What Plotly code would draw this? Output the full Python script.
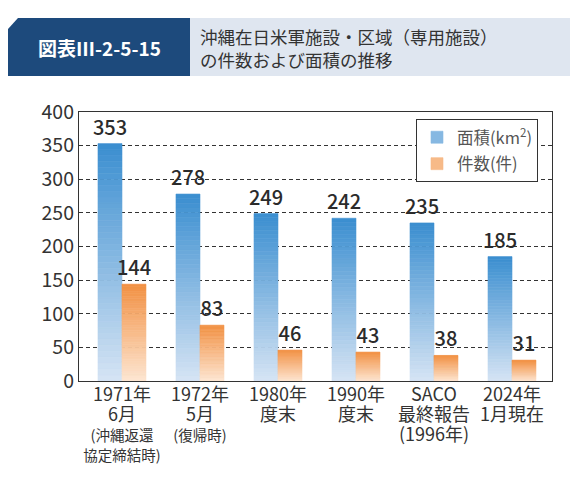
"""
沖縄在日米軍施設・区域（専用施設）の件数および面積の推移 - grouped bars with gradient fill
"""
import plotly.graph_objects as go

# data
categories = ["1971年6月", "1972年5月", "1980年度末", "1990年度末", "SACO最終報告", "2024年1月現在"]
area_km2 = [353, 278, 249, 242, 235, 185]
count = [144, 83, 46, 43, 38, 31]
label_lines = [
    (["1971年", "6月"], ["(沖縄返還", "協定締結時)"]),
    (["1972年", "5月"], ["(復帰時)"]),
    (["1980年", "度末"], []),
    (["1990年", "度末"], []),
    (["SACO", "最終報告", "(1996年)"], []),
    (["2024年", "1月現在"], []),
]

FONT = "Noto Sans CJK JP"
OFF = 8  # page body margin
W, H = 578 - OFF, 484 - OFF
N_SEG = 40  # slices per bar to fake the vertical gradient


def mix(c1, c2, t):
    r = [round(a + (b - a) * t) for a, b in zip(c1, c2)]
    return "rgb(%d,%d,%d)" % tuple(r)


def px(x):
    return (x - OFF) / W


def py(y):
    return 1 - (y - OFF) / H


tick_labels = []
for big, small in label_lines:
    parts = ["<span style='font-size:18px'>%s</span>" % s for s in big]
    parts += ["<span style='font-size:14.5px'>%s</span>" % s for s in small]
    tick_labels.append("<br>".join(parts))

fig = go.Figure()

series = [
    ("面積(km<sup>2</sup>)", area_km2, "area", (214, 228, 244), (58, 142, 208)),
    ("件数(件)", count, "count", (253, 230, 210), (242, 144, 66)),
]

for name, vals, grp, bottom, top in series:
    for k in range(N_SEG):
        col = mix(bottom, top, (k + 0.5) / N_SEG)
        last = k == N_SEG - 1
        fig.add_trace(go.Bar(
            x=categories,
            y=[v / N_SEG for v in vals],
            base=[v * k / N_SEG for v in vals],
            offsetgroup=grp,
            name=name,
            legendgroup=grp,
            showlegend=(k == N_SEG // 2),
            marker=dict(color=col, line=dict(width=0.6, color=col)),
            text=[str(v) for v in vals] if last else None,
            textposition="outside" if last else "none",
            textfont=dict(size=20, color="#2b2b2b", family=FONT, weight=500),
            cliponaxis=False,
            hoverinfo="skip",
        ))

# header band
fig.add_shape(type="rect", xref="paper", yref="paper",
              x0=px(190), x1=px(600), y0=py(76), y1=py(18),
              fillcolor="#dfe6f0", line_width=0, layer="below")
fig.add_shape(type="path", xref="paper", yref="paper",
              path="M %f,%f L %f,%f L %f,%f L %f,%f L %f,%f Z" % (
                  px(8), py(76), px(8), py(29), px(18), py(18),
                  px(190), py(18), px(190), py(76)),
              fillcolor="#1d4a7c", line_width=0, layer="below")
fig.add_annotation(x=px(99), y=py(47), xref="paper", yref="paper",
                   xanchor="center", yanchor="middle",
                   text="<b>図表Ⅲ-2-5-15</b>", showarrow=False,
                   font=dict(size=19, color="white", family=FONT))
fig.add_annotation(x=px(198), y=py(48), xref="paper", yref="paper",
                   xanchor="left", yanchor="middle", align="left",
                   text="沖縄在日米軍施設・区域（専用施設）<br>の件数および面積の推移",
                   showarrow=False,
                   font=dict(size=17.5, color="#333333", family=FONT))

fig.update_layout(
    width=W,
    height=H,
    margin=dict(l=0, r=0, t=0, b=0),
    paper_bgcolor="white",
    plot_bgcolor="white",
    barmode="group",
    bargap=0.385,
    bargroupgap=0,
    uniformtext=dict(mode="show", minsize=20),
    font=dict(family=FONT, color="#333333"),
    showlegend=True,
    legend=dict(
        x=px(416), y=py(119), xanchor="left", yanchor="top",
        bgcolor="white", bordercolor="#333333", borderwidth=1,
        font=dict(size=16.5, color="#555555", family=FONT),
        tracegroupgap=2,
    ),
    xaxis=dict(
        domain=[px(79), px(552)],
        range=[-0.551, 5.513],
        tickmode="array",
        tickvals=categories,
        ticktext=tick_labels,
        tickfont=dict(size=15.5, color="#333333", family=FONT),
        showline=True, linecolor="#333333", linewidth=1.2, mirror=True,
        showgrid=False, ticks="", automargin=False,
    ),
    yaxis=dict(
        domain=[py(381), py(112)],
        range=[0, 400],
        dtick=50,
        tickfont=dict(size=19.5, color="#333333", family=FONT),
        showline=True, linecolor="#333333", linewidth=1.2, mirror=True,
        showgrid=True, gridcolor="#333333", gridwidth=1, griddash="4px,3px",
        zeroline=False, ticks="", automargin=False,
    ),
)

fig.write_html("out.html")
